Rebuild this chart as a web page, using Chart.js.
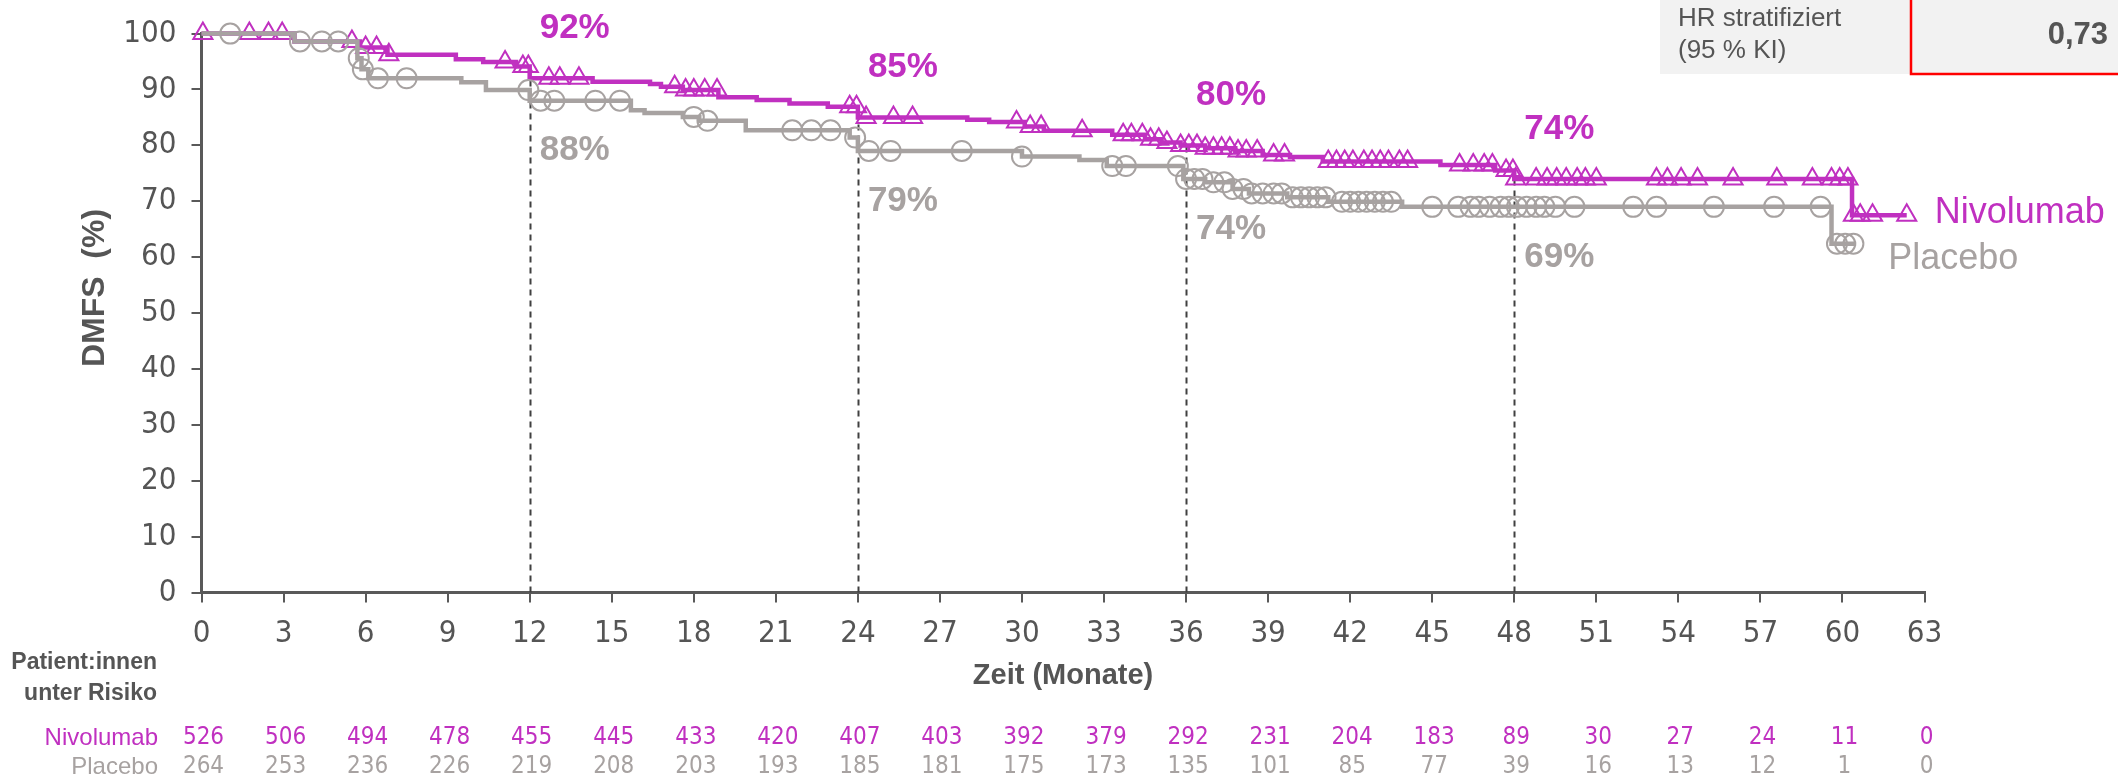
<!DOCTYPE html>
<html>
<head>
<meta charset="utf-8">
<script src="https://cdn.jsdelivr.net/npm/chart.js@4.4.1/dist/chart.umd.min.js"></script>
<style>
  html, body { margin: 0; padding: 0; background: #ffffff; }
  canvas { display: block; }
</style>
</head>
<body>
<canvas id="km" width="2118" height="781"></canvas>
<script>
// ---- Kaplan-Meier estimates (months, DMFS %) ----
const nivoTimes = [0, 3.4, 5.8, 6.8, 9.3, 10.3, 11.5, 12.0, 14.3, 16.4, 16.8, 17.6, 18.9, 20.3, 21.5, 22.9, 24.0,
  28.0, 28.8, 30.1, 30.8, 33.3, 34.5, 35.1, 35.8, 36.7, 37.8, 38.8, 39.8, 41.0, 45.3, 47.3, 48.0, 60.35, 62.35];
const nivoSurv = [100, 98.6, 97.5, 96.2, 95.4, 94.9, 94.1, 92.0, 91.4, 91.0, 90.5, 89.9, 88.6, 88.1, 87.5, 86.9, 85.0,
  84.6, 84.2, 83.4, 82.6, 81.9, 81.1, 80.5, 80.0, 79.5, 79.0, 78.3, 77.9, 77.1, 76.5, 75.5, 74.0, 67.5, 67.5];

const placeboTimes = [0, 3.4, 5.7, 5.85, 6.1, 9.5, 10.4, 12.0, 15.7, 16.2, 17.6, 18.2, 19.9, 23.7, 24.0, 30.0, 32.1,
  33.1, 35.9, 36.7, 37.7, 38.3, 39.7, 41.2, 43.9, 59.6, 60.5];
const placeboSurv = [100, 98.6, 95.6, 93.6, 92.0, 91.3, 89.9, 88.0, 86.3, 85.8, 85.1, 84.4, 82.7, 81.4, 79.0, 78.0, 77.4,
  76.3, 74.0, 73.4, 72.2, 71.4, 70.7, 69.9, 69.0, 62.4, 62.4];

// ---- censoring times ----
const nivoCensored = [0.05, 1.75, 2.45, 2.95, 5.5, 6.0, 6.4, 6.85, 11.1, 11.75, 11.95, 12.7, 13.1, 13.8, 17.3, 17.7,
  18.0, 18.4, 18.85, 23.7, 23.95, 24.3, 25.3, 26.0, 29.8, 30.3, 30.7, 32.2, 33.7, 34.0, 34.4, 34.7, 35.0, 35.3, 35.8,
  36.1, 36.4, 36.7, 37.0, 37.3, 37.6, 37.9, 38.2, 38.6, 39.2, 39.6, 41.2, 41.5, 41.8, 42.1, 42.5, 42.8, 43.1, 43.4,
  43.8, 44.1, 46.0, 46.5, 46.9, 47.2, 47.7, 47.95, 48.05, 48.8, 49.2, 49.55, 49.9, 50.3, 50.6, 51.0, 53.2, 53.6, 54.1,
  54.7, 56.0, 57.6, 58.9, 59.6, 59.9, 60.2, 60.4, 60.65, 61.1, 62.35];
const placeboCensored = [1.05, 3.6, 4.4, 5.0, 5.75, 5.9, 6.45, 7.5, 11.95, 12.4, 12.9, 14.4, 15.3, 18.0, 18.5, 21.6,
  22.3, 23.0, 23.9, 24.4, 25.2, 27.8, 30.0, 33.3, 33.8, 35.7, 36.0, 36.3, 36.6, 37.0, 37.4, 37.7, 38.1, 38.4, 38.8,
  39.2, 39.5, 39.9, 40.2, 40.5, 40.8, 41.1, 41.7, 42.0, 42.3, 42.6, 42.9, 43.2, 43.5, 45.0, 45.95, 46.4, 46.7, 47.1,
  47.5, 47.8, 48.1, 48.45, 48.8, 49.1, 49.5, 50.2, 52.35, 53.2, 55.3, 57.5, 59.2, 59.8, 60.1, 60.4];

// ---- landmark estimates ----
const landmarkMonths = [12, 24, 36, 48];
const nivoLandmarks = [92, 85, 80, 74];
const placeboLandmarks = [88, 79, 74, 69];

// ---- patients at risk ----
const riskMonths = [0, 3, 6, 9, 12, 15, 18, 21, 24, 27, 30, 33, 36, 39, 42, 45, 48, 51, 54, 57, 60, 63];
const nivoAtRisk = [526, 506, 494, 478, 455, 445, 433, 420, 407, 403, 392, 379, 292, 231, 204, 183, 89, 30, 27, 24, 11, 0];
const placeboAtRisk = [264, 253, 236, 226, 219, 208, 203, 193, 185, 181, 175, 173, 135, 101, 85, 77, 39, 16, 13, 12, 1, 0];

// ---- axes ----
const xTicks = { min: 0, max: 63, step: 3 };
const yTicks = { min: 0, max: 100, step: 10 };
const hazardRatio = '0,73';

// ---- styling ----
const NIVO = '#C030C0';
const PLACEBO = '#A7A2A1';
const AXIS = '#595959';
const TEXT = '#555555';
const NARROW = '"Liberation Sans Narrow", "DejaVu Sans Condensed", "Liberation Sans", sans-serif';
const SANS = '"Liberation Sans", "DejaVu Sans", sans-serif';

function toPoints(times, values) {
  return times.map((t, i) => ({ x: t, y: values[i] }));
}
function survivalAt(times, values, t) {
  let v = values[0];
  for (let i = 0; i < times.length; i++) { if (times[i] <= t) v = values[i]; }
  return v;
}
function censorPoints(censored, times, values) {
  return censored.map(t => ({ x: t, y: survivalAt(times, values, t) }));
}

const annotations = {
  id: 'kmAnnotations',
  beforeDatasetsDraw(chart) {
    const { ctx, scales: { x, y } } = chart;
    ctx.save();
    ctx.strokeStyle = '#404040';
    ctx.lineWidth = 2;
    ctx.setLineDash([6, 5]);
    landmarkMonths.forEach((m, i) => {
      const px = Math.round(x.getPixelForValue(m)) + 0.5;
      ctx.beginPath();
      ctx.moveTo(px, y.getPixelForValue(0));
      ctx.lineTo(px, y.getPixelForValue(nivoLandmarks[i]));
      ctx.stroke();
    });
    ctx.restore();
  },
  afterDraw(chart) {
    const { ctx, scales: { x, y }, chartArea } = chart;
    ctx.save();

    // landmark percentages
    ctx.font = 'bold 35px ' + SANS;
    ctx.textAlign = 'left';
    ctx.textBaseline = 'middle';
    landmarkMonths.forEach((m, i) => {
      const px = x.getPixelForValue(m) + 10;
      ctx.fillStyle = NIVO;
      ctx.fillText(nivoLandmarks[i] + '%', px, y.getPixelForValue(nivoLandmarks[i]) - 50);
      ctx.fillStyle = PLACEBO;
      ctx.fillText(placeboLandmarks[i] + '%', px, y.getPixelForValue(placeboLandmarks[i]) + 50);
    });

    // arm labels at the curve ends
    ctx.font = '36px ' + SANS;
    ctx.fillStyle = NIVO;
    const nEnd = nivoTimes.length - 1;
    ctx.fillText('Nivolumab', x.getPixelForValue(nivoTimes[nEnd]) + 28, y.getPixelForValue(nivoSurv[nEnd]) - 2);
    ctx.fillStyle = PLACEBO;
    const pEnd = placeboTimes.length - 1;
    ctx.fillText('Placebo', x.getPixelForValue(placeboTimes[pEnd]) + 32, y.getPixelForValue(placeboSurv[pEnd]) + 15);

    // axis titles
    ctx.fillStyle = TEXT;
    ctx.font = 'bold 29px ' + SANS;
    ctx.textAlign = 'center';
    ctx.fillText('Zeit (Monate)', (chartArea.left + chartArea.right) / 2, 676);
    ctx.save();
    ctx.translate(95, 288);
    ctx.rotate(-Math.PI / 2);
    ctx.font = 'bold 32px ' + SANS;
    ctx.fillText('DMFS  (%)', 0, 0);
    ctx.restore();

    // patients at risk
    ctx.textAlign = 'right';
    ctx.font = 'bold 23px ' + SANS;
    ctx.fillStyle = TEXT;
    ctx.fillText('Patient:innen', 157, 663);
    ctx.fillText('unter Risiko', 157, 694);
    ctx.font = '24px ' + SANS;
    ctx.fillStyle = NIVO;
    ctx.fillText('Nivolumab', 158, 738);
    ctx.fillStyle = PLACEBO;
    ctx.fillText('Placebo', 158, 767);
    ctx.textAlign = 'center';
    ctx.font = '24px ' + NARROW;
    riskMonths.forEach((m, i) => {
      const px = x.getPixelForValue(m) + 2;
      ctx.fillStyle = NIVO;
      ctx.fillText(String(nivoAtRisk[i]), px, 738);
      ctx.fillStyle = PLACEBO;
      ctx.fillText(String(placeboAtRisk[i]), px, 767);
    });

    // hazard ratio box
    ctx.fillStyle = '#F2F2F2';
    ctx.fillRect(1660, 0, 458, 74);
    ctx.strokeStyle = '#FF0000';
    ctx.lineWidth = 2.5;
    ctx.beginPath();
    ctx.moveTo(1911, 0);
    ctx.lineTo(1911, 74);
    ctx.lineTo(2120, 74);
    ctx.stroke();
    ctx.fillStyle = TEXT;
    ctx.textAlign = 'left';
    ctx.font = '26px ' + SANS;
    ctx.fillText('HR stratifiziert', 1678, 19);
    ctx.fillText('(95 % KI)', 1678, 51);
    ctx.textAlign = 'right';
    ctx.font = 'bold 31px ' + SANS;
    ctx.fillText(hazardRatio, 2108, 35);

    ctx.restore();
  }
};

const ctx = document.getElementById('km').getContext('2d');
new Chart(ctx, {
  type: 'line',
  data: {
    datasets: [
      {
        label: 'Placebo',
        data: toPoints(placeboTimes, placeboSurv),
        borderColor: PLACEBO,
        borderWidth: 4.5,
        stepped: true,
        pointRadius: 0,
        fill: false,
        clip: false
      },
      {
        label: 'Placebo zensiert',
        data: censorPoints(placeboCensored, placeboTimes, placeboSurv),
        showLine: false,
        pointStyle: 'circle',
        pointRadius: 10,
        pointBorderWidth: 2,
        pointBorderColor: PLACEBO,
        pointBackgroundColor: 'rgba(0,0,0,0)',
        clip: false
      },
      {
        label: 'Nivolumab',
        data: toPoints(nivoTimes, nivoSurv),
        borderColor: NIVO,
        borderWidth: 4.5,
        stepped: true,
        pointRadius: 0,
        fill: false,
        clip: false
      },
      {
        label: 'Nivolumab zensiert',
        data: censorPoints(nivoCensored, nivoTimes, nivoSurv),
        showLine: false,
        pointStyle: 'triangle',
        pointRadius: 11,
        pointBorderWidth: 2,
        pointBorderColor: NIVO,
        pointBackgroundColor: 'rgba(0,0,0,0)',
        clip: false
      }
    ]
  },
  options: {
    responsive: false,
    animation: false,
    devicePixelRatio: 1,
    layout: { padding: { top: 32.5, right: 193.5, left: 0, bottom: 0 } },
    plugins: { legend: { display: false }, tooltip: { enabled: false } },
    scales: {
      x: {
        type: 'linear',
        min: xTicks.min,
        max: xTicks.max,
        afterFit(scale) { scale.height = 188.5; },
        afterBuildTicks(scale) {
          const t = [];
          for (let v = xTicks.min; v <= xTicks.max; v += xTicks.step) t.push({ value: v });
          scale.ticks = t;
        },
        ticks: { color: TEXT, font: { family: NARROW, size: 31 }, padding: 13, maxRotation: 0, autoSkip: false },
        grid: { drawOnChartArea: false, drawTicks: true, tickLength: 10, color: AXIS, lineWidth: 2 },
        border: { color: AXIS, width: 3 }
      },
      y: {
        min: yTicks.min,
        max: yTicks.max,
        afterFit(scale) { scale.width = 201.5; },
        ticks: { stepSize: yTicks.step, color: TEXT, font: { family: NARROW, size: 31 }, padding: 15 },
        grid: { drawOnChartArea: false, drawTicks: true, tickLength: 10, color: AXIS, lineWidth: 2 },
        border: { color: AXIS, width: 3 }
      }
    }
  },
  plugins: [annotations]
});
</script>
</body>
</html>
